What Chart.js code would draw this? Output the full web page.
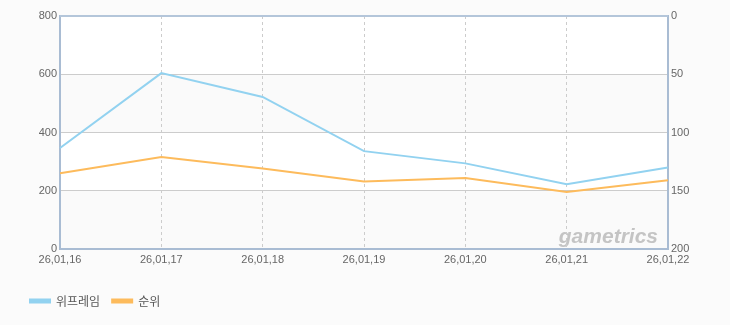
<!DOCTYPE html>
<html lang="ko">
<head>
<meta charset="UTF-8">
<title>위프레임 순위</title>
<script src="https://cdn.jsdelivr.net/npm/chart.js"></script>
<style>
  html, body { margin: 0; padding: 0; background: #fbfbfb; }
  #wrap { width: 730px; height: 325px; position: relative; }
</style>
</head>
<body>
<div id="wrap"><canvas id="grafico" width="730" height="325"></canvas></div>
<script>
// dados
const datas = ['26,01,16', '26,01,17', '26,01,18', '26,01,19', '26,01,20', '26,01,21', '26,01,22'];
const valoresFrame = [347, 604, 522, 336, 294, 222, 280];
const valoresRank = [135, 121, 131, 142, 139, 151, 141];
const nomes = ['위프레임', '순위'];
const cores = ['#92d2f0', '#fdbb5c'];

// faixas alternadas no fundo + marca d'água
const fundoPlugin = {
  id: 'fundo',
  afterUpdate(chart) {
    // empurra a legenda um pouco para a direita
    chart.legend.left = 18;
  },
  beforeDraw(chart) {
    const { ctx, chartArea: a, scales } = chart;
    const y = scales.y;
    ctx.save();
    for (let v = 0; v < 800; v += 200) {
      const top = y.getPixelForValue(v + 200);
      const bot = y.getPixelForValue(v);
      ctx.fillStyle = (v / 200) % 2 === 0 ? '#fafafa' : '#ffffff';
      ctx.fillRect(a.left, top, a.right - a.left, bot - top);
    }
    ctx.font = 'italic bold 21px "Liberation Sans", sans-serif';
    ctx.fillStyle = 'rgba(160,160,160,0.6)';
    ctx.textAlign = 'right';
    ctx.fillText('gametrics', a.right - 10, a.bottom - 12);
    ctx.restore();
  },
  afterDraw(chart) {
    const { ctx, chartArea: a } = chart;
    ctx.save();
    ctx.strokeStyle = '#b4c6da';
    ctx.lineWidth = 2;
    ctx.beginPath();
    ctx.moveTo(a.left, a.top);
    ctx.lineTo(a.right, a.top);
    ctx.stroke();
    ctx.restore();
  }
};

const ctx = document.getElementById('grafico').getContext('2d');
new Chart(ctx, {
  type: 'line',
  data: {
    labels: datas,
    datasets: [{
      label: nomes[0],
      data: valoresFrame,
      borderColor: cores[0],
      backgroundColor: cores[0],
      borderWidth: 2,
      pointRadius: 0,
      tension: 0,
      yAxisID: 'y'
    }, {
      label: nomes[1],
      data: valoresRank,
      borderColor: cores[1],
      backgroundColor: cores[1],
      borderWidth: 2,
      pointRadius: 0,
      tension: 0,
      yAxisID: 'y1'
    }]
  },
  options: {
    responsive: false,
    animation: false,
    layout: { padding: { top: 16, bottom: 8, left: 0, right: 0 } },
    plugins: {
      legend: {
        position: 'bottom',
        align: 'start',
        labels: {
          boxWidth: 20,
          boxHeight: 3,
          color: '#555',
          font: { family: '"Noto Sans CJK KR", sans-serif', size: 12 },
          padding: 12
        }
      },
      tooltip: { enabled: false }
    },
    scales: {
      x: {
        offset: false,
        grid: { color: '#cccccc', drawTicks: false, tickLength: 0 },
        border: { color: '#a9bcd3', width: 2, dash: [3, 3] },
        ticks: { color: '#666', font: { family: 'Liberation Sans', size: 11 }, padding: 4, maxRotation: 0, autoSkip: false },
        afterFit(s) { s.height = 34; }
      },
      y: {
        position: 'left',
        min: 0, max: 800,
        ticks: { stepSize: 200, color: '#666', font: { family: 'Liberation Sans', size: 11 }, padding: 3 },
        grid: { color: '#cccccc', drawTicks: false },
        border: { color: '#a9bcd3', width: 2 },
        afterFit(s) { s.width = 60; }
      },
      y1: {
        position: 'right',
        reverse: true,
        min: 0, max: 200,
        ticks: { stepSize: 50, color: '#666', font: { family: 'Liberation Sans', size: 11 }, padding: 3 },
        grid: { drawOnChartArea: false, drawTicks: false },
        border: { color: '#a9bcd3', width: 2 },
        afterFit(s) { s.width = 62; }
      }
    }
  },
  plugins: [fundoPlugin]
});
</script>
</body>
</html>
